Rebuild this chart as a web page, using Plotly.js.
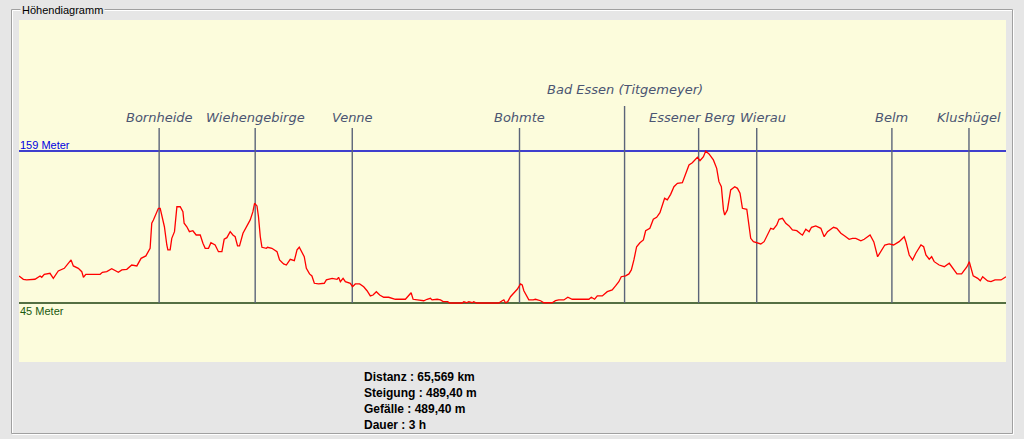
<!DOCTYPE html>
<html>
<head>
<meta charset="utf-8">
<script src="https://cdn.plot.ly/plotly-3.0.1.min.js"></script>
<style>
  html, body { margin: 0; padding: 0; background: #e6e6e6; }
  #chart { width: 1024px; height: 439px; }
</style>
</head>
<body>
<div id="chart"></div>
<script>
// ---- Data ----
const distanceKm = [
  0.00,0.29,0.51,1.06,1.40,1.51,1.68,2.06,2.28,2.61,
  3.01,3.46,3.61,3.94,4.17,4.28,4.44,5.39,5.54,5.83,
  6.16,6.60,6.83,7.16,7.49,7.83,8.11,8.43,8.71,8.82,
  8.93,9.26,9.38,9.66,9.82,9.89,10.04,10.15,10.33,10.49,
  10.71,10.89,10.97,11.15,11.32,11.55,11.77,12.04,12.22,12.37,
  12.59,12.75,13.03,13.25,13.48,13.63,13.81,14.03,14.21,14.36,
  14.52,14.65,14.88,15.14,15.36,15.54,15.65,15.81,15.91,16.03,
  16.14,16.43,16.51,16.80,17.14,17.31,17.58,17.76,18.02,18.29,
  18.47,18.62,18.80,18.95,19.09,19.30,19.46,19.62,19.90,20.28,
  20.42,20.80,21.13,21.23,21.35,21.53,21.68,22.01,22.16,22.34,
  22.63,22.90,23.12,23.34,23.52,23.74,23.96,24.23,24.56,24.85,
  25.00,25.67,25.88,26.05,26.18,26.55,26.89,27.11,27.33,27.44,
  27.78,28.00,28.18,28.48,28.61,29.44,29.55,29.73,29.88,30.10,
  30.21,30.39,31.87,32.10,32.21,32.32,32.47,32.65,32.87,33.10,
  33.32,33.43,33.54,33.72,33.87,34.16,34.31,34.65,34.87,35.42,
  35.64,35.86,36.20,36.46,36.75,37.09,37.86,38.02,38.24,38.42,
  38.75,39.08,39.41,39.63,39.85,40.01,40.30,40.52,40.68,40.85,
  41.03,41.25,41.48,41.63,41.91,42.14,42.36,42.58,42.81,42.89,
  43.07,43.29,43.51,43.74,44.07,44.29,44.51,44.73,44.89,45.07,
  45.24,45.47,45.62,45.84,46.13,46.35,46.50,46.66,46.80,46.88,
  47.06,47.17,47.28,47.55,47.73,47.90,48.06,48.35,48.50,48.61,
  48.79,49.06,49.28,49.50,49.76,49.94,50.12,50.34,50.49,50.72,
  50.94,51.16,51.38,51.67,51.94,52.05,52.27,52.49,52.65,52.93,
  53.27,53.49,53.71,54.11,54.33,54.60,54.86,55.15,55.37,55.59,
  55.93,56.15,56.54,56.79,57.04,57.26,57.52,57.81,58.10,58.47,
  58.81,58.92,59.14,59.36,59.58,59.92,60.10,60.25,60.47,60.63,
  60.80,61.13,61.47,61.80,61.96,62.31,62.62,62.98,63.13,63.24,
  63.39,63.69,63.86,64.02,64.35,64.57,64.84,65.24,65.57
];
const elevationM = [
  65.3,62.8,62.3,62.8,65.3,64.3,66.5,67.3,63.5,69.0,
  71.0,77.3,72.8,71.0,68.5,64.3,66.5,66.5,68.0,68.5,
  70.7,68.0,69.8,70.3,73.5,72.8,78.5,80.3,86.0,104.8,
  107.3,116.0,116.0,102.2,88.5,84.8,84.8,93.5,98.5,117.2,
  117.2,113.5,104.8,102.2,98.5,99.2,96.0,96.0,89.8,86.0,
  86.0,90.2,88.5,83.5,83.5,92.8,94.0,98.5,96.0,94.7,
  87.8,87.8,97.3,102.2,107.3,113.5,119.8,117.8,109.7,94.7,
  86.8,86.0,86.8,86.0,83.5,77.3,74.3,73.5,77.8,76.7,
  84.8,86.8,83.5,79.7,71.0,66.8,65.3,59.8,59.3,59.8,
  62.3,63.5,62.8,64.3,61.0,63.5,61.0,59.8,57.2,59.3,
  59.3,57.2,54.2,50.3,51.0,53.5,51.0,49.3,49.3,48.5,
  47.8,47.8,50.3,52.7,47.8,47.3,46.7,47.8,48.5,47.3,
  47.8,47.3,46.0,46.0,45.0,45.0,46.0,45.2,46.0,45.2,
  46.0,45.0,45.0,46.7,47.3,45.2,46.0,49.7,52.3,55.3,
  59.3,58.5,54.2,49.7,47.3,47.3,47.8,46.7,45.2,45.2,
  46.7,47.3,47.3,49.3,47.8,47.8,47.8,49.3,47.8,50.3,
  50.3,53.5,54.8,57.8,61.0,64.7,65.3,66.8,69.8,77.3,
  87.2,90.2,92.3,99.2,101.0,107.8,109.3,112.7,120.2,123.5,
  122.3,126.5,132.2,134.8,135.2,142.3,148.5,150.2,152.3,154.3,
  151.7,154.7,159.0,156.8,152.3,146.0,136.0,132.2,114.8,111.0,
  114.8,122.3,129.8,132.2,131.0,127.3,116.0,115.3,102.2,93.5,
  91.0,89.8,89.3,91.0,97.3,101.0,100.3,103.5,107.8,108.5,
  104.8,102.8,99.8,99.2,96.8,96.0,100.3,98.5,101.8,102.8,
  101.0,94.7,98.5,101.8,101.0,97.3,95.3,92.8,93.5,93.5,
  91.7,92.8,96.0,90.8,79.7,83.5,88.5,89.3,88.5,91.0,
  94.7,91.0,81.0,77.3,82.3,88.5,87.2,81.0,77.8,79.7,
  76.0,73.5,72.2,74.8,72.2,66.8,66.8,72.2,76.0,72.2,
  65.3,63.5,61.7,64.7,61.5,61.0,62.3,62.3,64.7
];
const waypointNames = ['Bornheide','Wiehengebirge','Venne','Bohmte','Bad Essen (Titgemeyer)','Essener Berg','Wierau','Belm','Klushügel'];
const waypointKm = [9.31, 15.69, 22.14, 33.25, 40.23, 45.15, 49.01, 57.99, 63.11];
const statLabels = ['Distanz', 'Steigung', 'Gefälle', 'Dauer'];
const statValues = ['65,569 km', '489,40 m', '489,40 m', '3 h'];
const panelTitle = 'Höhendiagramm';
const unitLabel = 'Meter';

// ---- Layout geometry / styles ----
const L = 19, T = 20, W = 987, H = 342;
const px2x = px => (px - L) / W;
const px2y = py => (T + H - py) / H;
const raisedLabels = ['Bad Essen (Titgemeyer)'];
const labelShift = {'Essener Berg': -7, 'Wierau': 6};
const PANEL = '#e6e6e6';

const maxElev = Math.max(...elevationM);
const minElev = Math.min(...elevationM);
const xMax = Math.max(...distanceKm);
const yRange = [0.75, 257.25];
const mPerPx = (yRange[1] - yRange[0]) / H;
const pxToElev = py => yRange[0] + (T + H - py) * mPerPx;

const shapes = [];
const annotations = [];

// group box (etched)
shapes.push({type:'rect', xref:'paper', yref:'paper', x0:px2x(12.5), x1:px2x(1013.5), y0:px2y(10.5), y1:px2y(434.5), line:{color:'#ffffff', width:1}, layer:'below'});
shapes.push({type:'rect', xref:'paper', yref:'paper', x0:px2x(11.5), x1:px2x(1012.5), y0:px2y(9.5), y1:px2y(433.5), line:{color:'#a0a0a0', width:1}, layer:'below'});

// max / min lines
shapes.push({type:'line', xref:'paper', yref:'y', x0:0, x1:1, y0:maxElev, y1:maxElev, line:{color:'#0000c8', width:1.3}, layer:'below'});
shapes.push({type:'line', xref:'paper', yref:'y', x0:0, x1:1, y0:minElev, y1:minElev, line:{color:'#1c4010', width:1.3}, layer:'below'});

// waypoint lines + labels
waypointNames.forEach((name, i) => {
  const raised = raisedLabels.includes(name);
  shapes.push({type:'line', xref:'x', yref:'y', x0:waypointKm[i], x1:waypointKm[i],
    y0:minElev, y1:pxToElev(raised ? 106 : 128), line:{color:'#5b6479', width:1.4}, layer:'below'});
  annotations.push({x:waypointKm[i], y:pxToElev(raised ? 89 : 117), xref:'x', yref:'y',
    text:'<i>' + name + '</i>', showarrow:false, xanchor:'center', yanchor:'middle',
    xshift: labelShift[name] || 0,
    font:{family:'DejaVu Sans', size:13, color:'#4b5572'}});
});

annotations.push({x:0, y:maxElev, xref:'paper', yref:'y', xanchor:'left', yanchor:'bottom', yshift:-1,
  text: maxElev + ' ' + unitLabel, showarrow:false, borderpad:0,
  font:{family:'Liberation Sans', size:11, color:'#0000e0'}});
annotations.push({x:0, y:minElev, xref:'paper', yref:'y', xanchor:'left', yanchor:'top', yshift:-1,
  text: minElev + ' ' + unitLabel, showarrow:false, borderpad:0,
  font:{family:'Liberation Sans', size:11, color:'#1a5a10'}});

// panel title
annotations.push({x:px2x(20), y:px2y(9.5), xref:'paper', yref:'paper', xanchor:'left', yanchor:'middle',
  text: panelTitle, showarrow:false, bgcolor:PANEL, borderpad:1,
  font:{family:'Liberation Sans', size:11, color:'#000000'}});

// stats
const statY = [377, 393, 409, 425];
statLabels.forEach((lab, i) => {
  annotations.push({x:px2x(363), y:px2y(statY[i]), xref:'paper', yref:'paper', xanchor:'left', yanchor:'middle',
    text:'<b>' + lab + ' : ' + statValues[i] + '</b>', showarrow:false, borderpad:0,
    font:{family:'Liberation Sans', size:12, color:'#000000'}});
});

const trace = {
  x: distanceKm, y: elevationM, type:'scatter', mode:'lines',
  line:{color:'#ff0000', width:1.3}, hoverinfo:'skip'
};

const layout = {
  width:1024, height:439,
  margin:{l:L, r:1024 - L - W, t:T, b:439 - T - H, pad:0},
  paper_bgcolor:PANEL, plot_bgcolor:'#fcfcdc',
  showlegend:false,
  xaxis:{range:[0, xMax], showgrid:false, zeroline:false, showticklabels:false, ticks:'', showline:false, fixedrange:true},
  yaxis:{range:yRange, showgrid:false, zeroline:false, showticklabels:false, ticks:'', showline:false, fixedrange:true},
  shapes: shapes,
  annotations: annotations
};

Plotly.newPlot('chart', [trace], layout, {staticPlot:true, displayModeBar:false});
</script>
</body>
</html>
